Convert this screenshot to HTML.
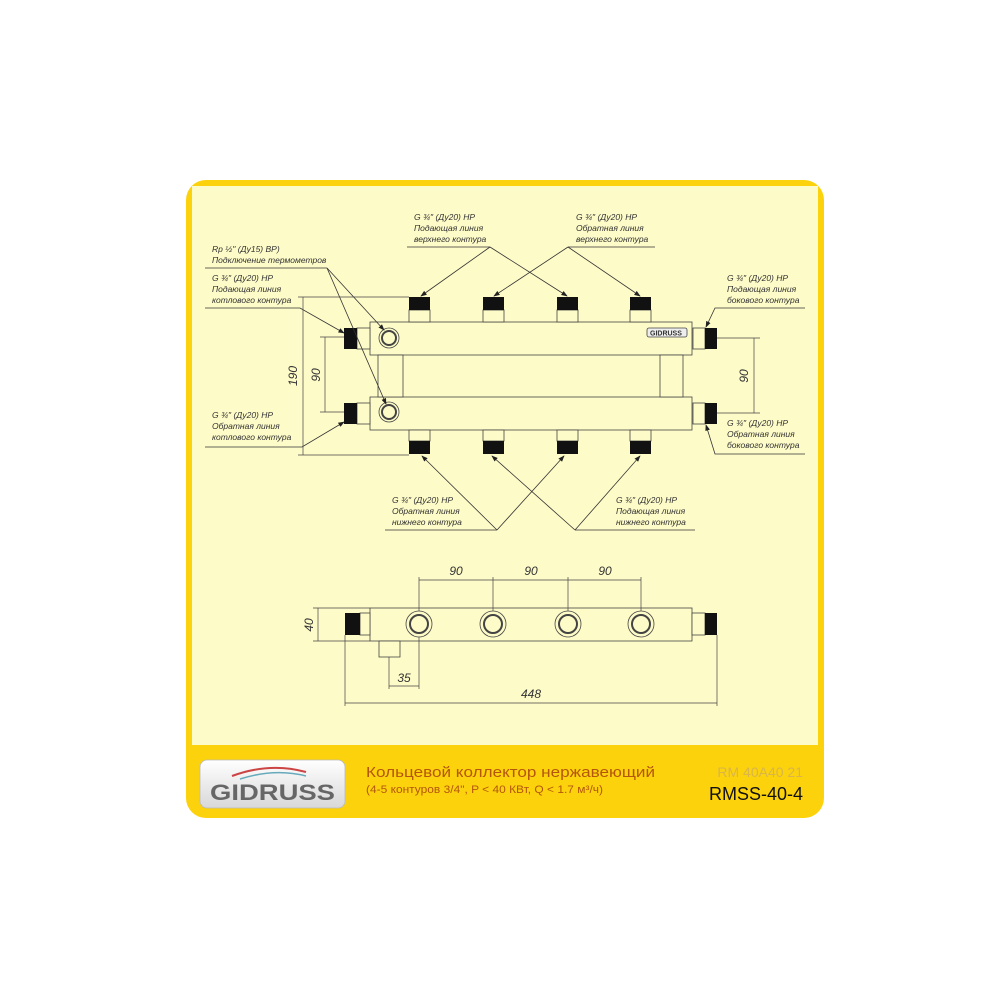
<!DOCTYPE html>
<html><head><meta charset="utf-8"><style>
html,body{margin:0;padding:0;background:#fff;}
svg{display:block;}
.t{font-family:"Liberation Sans","DejaVu Sans",sans-serif;font-style:italic;font-size:8.5px;fill:#333;}
.d{font-family:"Liberation Sans",sans-serif;font-style:italic;font-size:12px;fill:#333;}
</style></head><body>
<svg width="1000" height="1000" viewBox="0 0 1000 1000" xmlns="http://www.w3.org/2000/svg">
<defs>
<linearGradient id="lg" x1="0" y1="0" x2="0" y2="1"><stop offset="0" stop-color="#ffffff"/><stop offset="1" stop-color="#d8d8d8"/></linearGradient>
<marker id="ar" markerWidth="8" markerHeight="6" refX="7" refY="3" orient="auto"><path d="M0,0 L8,3 L0,6z" fill="#222"/></marker>
</defs>
<rect x="186" y="180" width="638" height="638" rx="20" fill="#fcd20c"/>
<path d="M192,186 h626 v559 h-626z" fill="#fdfbc8"/>
<g stroke="#444" stroke-width="0.8" fill="#fdfbc8">
<rect x="370" y="322" width="322" height="33"/>
<rect x="370" y="397" width="322" height="33"/>
<rect x="378" y="355" width="25" height="42"/>
<rect x="660" y="355" width="23" height="42"/>
<rect x="357" y="328" width="13" height="21"/><rect x="357" y="403" width="13" height="21"/>
<rect x="693" y="328" width="12" height="21"/><rect x="693" y="403" width="12" height="21"/>
<circle cx="389" cy="338" r="10"/><circle cx="389" cy="338" r="7" stroke-width="2"/>
<circle cx="389" cy="412" r="10"/><circle cx="389" cy="412" r="7" stroke-width="2"/>
<rect x="409" y="310" width="21" height="12"/><rect x="483" y="310" width="21" height="12"/><rect x="557" y="310" width="21" height="12"/><rect x="630" y="310" width="21" height="12"/>
<rect x="409" y="430" width="21" height="11"/><rect x="483" y="430" width="21" height="11"/><rect x="557" y="430" width="21" height="11"/><rect x="630" y="430" width="21" height="11"/>
<rect x="647" y="328" width="40" height="9" rx="2" fill="#eee"/>
<rect x="370" y="608" width="322" height="33"/>
<rect x="360" y="613" width="10" height="22"/><rect x="692" y="613" width="13" height="22"/>
<rect x="379" y="641" width="21" height="16"/>
<circle cx="419" cy="624" r="13"/><circle cx="419" cy="624" r="9" stroke-width="2"/>
<circle cx="493" cy="624" r="13"/><circle cx="493" cy="624" r="9" stroke-width="2"/>
<circle cx="568" cy="624" r="13"/><circle cx="568" cy="624" r="9" stroke-width="2"/>
<circle cx="641" cy="624" r="13"/><circle cx="641" cy="624" r="9" stroke-width="2"/>
</g>
<text x="650" y="335.5" font-family="Liberation Sans" font-size="7" font-weight="bold" fill="#333">GIDRUSS</text>
<g fill="#111">
<rect x="344" y="328" width="13" height="21"/><rect x="344" y="403" width="13" height="21"/>
<rect x="705" y="328" width="12" height="21"/><rect x="705" y="403" width="12" height="21"/>
<rect x="409" y="297" width="21" height="13"/><rect x="483" y="297" width="21" height="13"/><rect x="557" y="297" width="21" height="13"/><rect x="630" y="297" width="21" height="13"/>
<rect x="409" y="441" width="21" height="13"/><rect x="483" y="441" width="21" height="13"/><rect x="557" y="441" width="21" height="13"/><rect x="630" y="441" width="21" height="13"/>
<rect x="345" y="613" width="15" height="22"/><rect x="705" y="613" width="12" height="22"/>
</g>
<g stroke="#333" stroke-width="0.8" fill="none">
<path d="M205,268 H327"/><path d="M327,268 L384,330" marker-end="url(#ar)"/><path d="M327,268 L386,404" marker-end="url(#ar)"/>
<path d="M205,308 H300 L344,333" marker-end="url(#ar)"/>
<path d="M205,447 H302 L344,422" marker-end="url(#ar)"/>
<path d="M407,247 H490"/><path d="M490,247 L421,296" marker-end="url(#ar)"/><path d="M490,247 L567,296" marker-end="url(#ar)"/>
<path d="M568,247 H655"/><path d="M568,247 L494,296" marker-end="url(#ar)"/><path d="M568,247 L640,296" marker-end="url(#ar)"/>
<path d="M805,308 H715 L706,327" marker-end="url(#ar)"/>
<path d="M805,454 H715 L706,425" marker-end="url(#ar)"/>
<path d="M385,530 H497"/><path d="M497,530 L422,456" marker-end="url(#ar)"/><path d="M497,530 L564,456" marker-end="url(#ar)"/>
<path d="M575,530 H695"/><path d="M575,530 L492,456" marker-end="url(#ar)"/><path d="M575,530 L640,456" marker-end="url(#ar)"/>
</g>
<g stroke="#444" stroke-width="0.7" fill="none">
<path d="M298,297 H409 M298,455 H409 M303,297 V455"/>
<path d="M320,337 H344 M320,412 H344 M325,337 V412"/>
<path d="M717,338 H760 M717,413 H760 M754,338 V413"/>
<path d="M419,580 H641 M419,577 V611 M493,577 V611 M568,577 V611 M641,577 V611"/>
<path d="M313,608 H370 M313,641 H370 M318,608 V641"/>
<path d="M389,657 V689 M389,686 H419 M419,637 V689"/>
<path d="M345,635 V706 M717,635 V706 M345,703 H717"/>
</g>
<text class="d" transform="translate(297,376) rotate(-90)" text-anchor="middle">190</text>
<text class="d" transform="translate(320,375) rotate(-90)" text-anchor="middle">90</text>
<text class="d" transform="translate(748,376) rotate(-90)" text-anchor="middle">90</text>
<text class="d" transform="translate(313,625) rotate(-90)" text-anchor="middle">40</text>
<text class="d" x="456" y="575" text-anchor="middle">90</text>
<text class="d" x="531" y="575" text-anchor="middle">90</text>
<text class="d" x="605" y="575" text-anchor="middle">90</text>
<text class="d" x="404" y="682" text-anchor="middle">35</text>
<text class="d" x="531" y="698" text-anchor="middle">448</text>
<g class="t">
<text x="212" y="252">Rp ½" (Ду15) ВР)</text><text x="212" y="263">Подключение термометров</text>
<text x="212" y="281">G ¾" (Ду20) НР</text><text x="212" y="292">Подающая линия</text><text x="212" y="303">котлового контура</text>
<text x="212" y="418">G ¾" (Ду20) НР</text><text x="212" y="429">Обратная линия</text><text x="212" y="440">котлового контура</text>
<text x="414" y="220">G ¾" (Ду20) НР</text><text x="414" y="231">Подающая линия</text><text x="414" y="242">верхнего контура</text>
<text x="576" y="220">G ¾" (Ду20) НР</text><text x="576" y="231">Обратная линия</text><text x="576" y="242">верхнего контура</text>
<text x="727" y="281">G ¾" (Ду20) НР</text><text x="727" y="292">Подающая линия</text><text x="727" y="303">бокового контура</text>
<text x="727" y="426">G ¾" (Ду20) НР</text><text x="727" y="437">Обратная линия</text><text x="727" y="448">бокового контура</text>
<text x="392" y="503">G ¾" (Ду20) НР</text><text x="392" y="514">Обратная линия</text><text x="392" y="525">нижнего контура</text>
<text x="616" y="503">G ¾" (Ду20) НР</text><text x="616" y="514">Подающая линия</text><text x="616" y="525">нижнего контура</text>
</g>
<rect x="200" y="760" width="145" height="48" rx="7" fill="url(#lg)" stroke="#bbb" stroke-width="0.8"/>
<path d="M232,776 Q270,762 306,772" stroke="#c44" stroke-width="2" fill="none"/>
<path d="M240,779 Q275,768 306,776" stroke="#6ab" stroke-width="1.5" fill="none"/>
<text x="210" y="800" textLength="125" lengthAdjust="spacingAndGlyphs" font-family="Liberation Sans" font-weight="bold" font-size="22" fill="#666">GIDRUSS</text>
<text x="366" y="777" textLength="289" lengthAdjust="spacingAndGlyphs" font-family="Liberation Sans, DejaVu Sans, sans-serif" font-size="15" fill="#b4560c">Кольцевой коллектор нержавеющий</text>
<text x="366" y="793" textLength="237" lengthAdjust="spacingAndGlyphs" font-family="Liberation Sans, DejaVu Sans, sans-serif" font-size="11" fill="#b4560c">(4-5 контуров 3/4", P &lt; 40 КВт, Q &lt; 1.7 м³/ч)</text>
<text x="803" y="777" text-anchor="end" font-family="Liberation Sans" font-size="14" fill="#d9b54a">RM 40A40 21</text>
<text x="803" y="800" text-anchor="end" font-family="Liberation Sans" font-size="18" fill="#111">RMSS-40-4</text>
</svg>
</body></html>
